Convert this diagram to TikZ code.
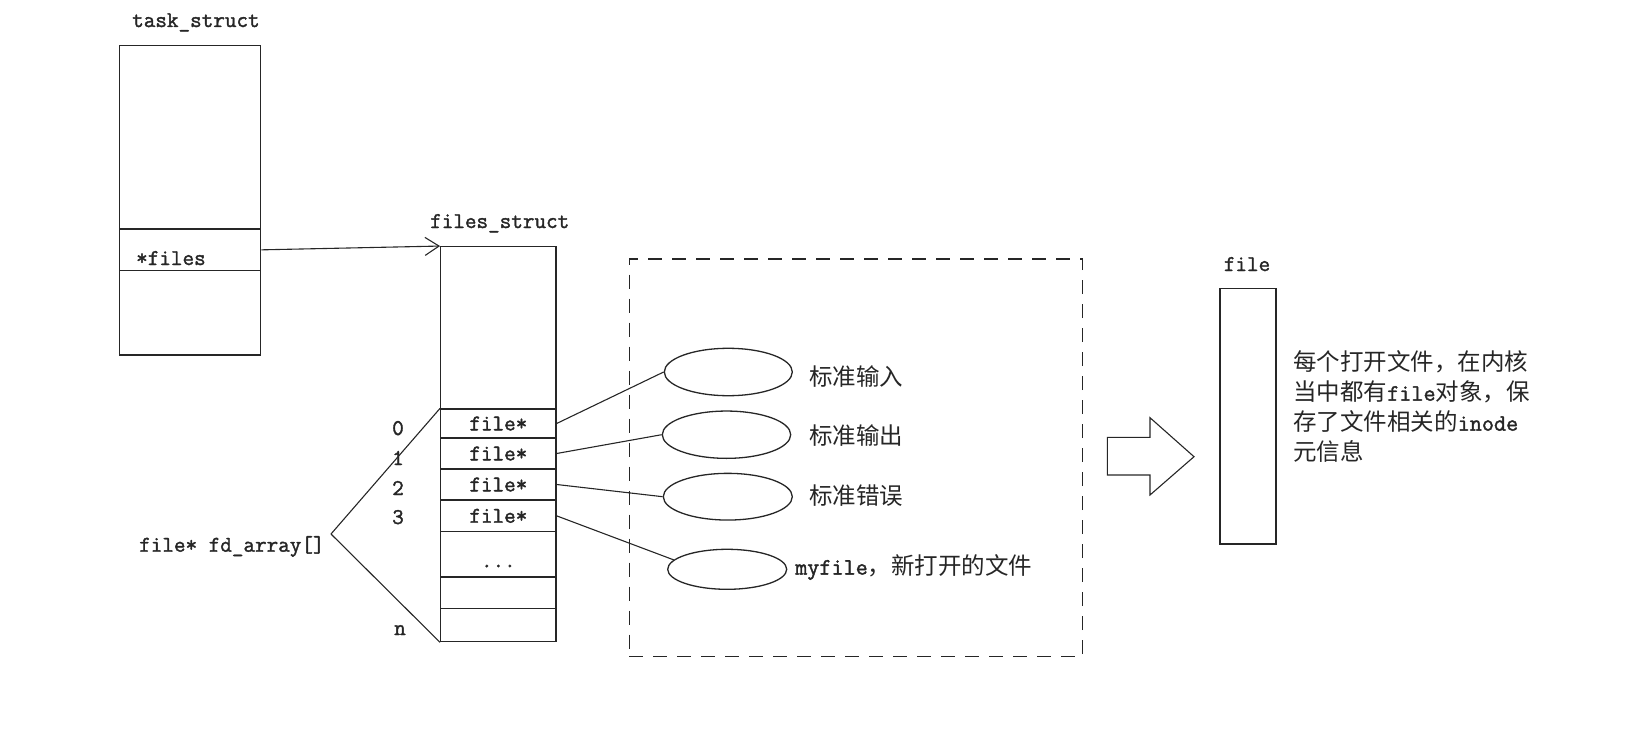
\documentclass[tikz,border=0pt]{standalone}
\usepackage{fontspec}
\newfontfamily\cjk{Noto Sans CJK SC}
\newfontfamily\mono{Latin Modern Mono}[RawFeature={embolden=1.6}]
\usetikzlibrary{shapes.geometric,arrows.meta}
\definecolor{ink}{HTML}{262626}
\begin{document}
\begin{tikzpicture}[x=1pt,y=-1pt,
  cell/.style={draw=ink, line width=1.3pt, inner sep=0pt, font=\fontsize{22.5}{27}\mono, text=ink},
  mono/.style={inner sep=0pt, font=\fontsize{22.5}{27}\mono, text=ink},
  cjkt/.style={inner sep=0pt, font=\fontsize{23.5}{30}\cjk, text=ink},
  oval/.style={ellipse, draw=ink, line width=1.3pt, inner sep=0pt},
  link/.style={line width=1.1pt, draw=ink},
  grpbox/.style={draw=ink, line width=1.3pt, dash pattern=on 14pt off 10pt, inner sep=0pt}
]
\useasboundingbox (0,0) rectangle (1651,746);

% task_struct
\node[mono, anchor=base west] (tl) at (132,27) {task\_struct};
\node[cell, minimum width=141.4, minimum height=183.3] (t0) at (190,137.35) {};
\node[cell, minimum width=141.4, minimum height=41.7] (t1) at (190,249.85) {};
\node[cell, minimum width=141.4, minimum height=84.3] (t2) at (190,312.85) {};
\node[mono, anchor=base west] (tf) at (136,265) {*files};

% files_struct
\node[mono, anchor=base west] (fl) at (430,228) {files\_struct};
\node[cell, minimum width=115.3, minimum height=162.3] (f0) at (498.35,327.85) {};
\node[cell, minimum width=115.3, minimum height=29] (r0) at (498.35,423.5) {file*};
\node[cell, minimum width=115.3, minimum height=31] (r1) at (498.35,453.5) {file*};
\node[cell, minimum width=115.3, minimum height=31] (r2) at (498.35,484.5) {file*};
\node[cell, minimum width=115.3, minimum height=31.7] (r3) at (498.35,515.85) {file*};
\node[cell, minimum width=115.3, minimum height=45.3] (r4) at (498.35,554.35) {\vphantom{f}\smash{\raisebox{-6pt}{...}}};
\node[cell, minimum width=115.3, minimum height=31.3] (r5) at (498.35,592.65) {};
\node[cell, minimum width=115.3, minimum height=33.4] (r6) at (498.35,625) {};

% indices
\node[mono, anchor=base] (i0) at (398,435) {0};
\node[mono, anchor=base] (i1) at (398,465) {1};
\node[mono, anchor=base] (i2) at (398,495) {2};
\node[mono, anchor=base] (i3) at (398,524) {3};
\node[mono, anchor=base] (in) at (400,635) {n};

% fd_array
\node[mono, anchor=base west] (fd) at (139,551.7) {file* fd\_array[]};
\coordinate (fa) at (331,534);
\draw[link] (fa) -- (r0.north west);
\draw[link] (fa) -- (r6.south west);

% pointer arrow
\draw[link, -{Straight Barb[length=14pt,width=18pt,line width=1.1pt]}] (t1.east) -- (f0.north west);

% dashed group
\node[grpbox, minimum width=453.4, minimum height=397.7] (grp) at (856,457.85) {};

% ellipses
\node[oval, minimum width=128, minimum height=47.4] (e1) at (728.3,372) {};
\node[oval, minimum width=128.4, minimum height=47.3] (e2) at (726.5,434.7) {};
\node[oval, minimum width=129, minimum height=46.7] (e3) at (727.8,496.7) {};
\node[oval, minimum width=119, minimum height=40] (e4) at (727.2,569.3) {};

\node[cjkt, anchor=west] (l1) at (809,376.7) {标准输入};
\node[cjkt, anchor=west] (l2) at (809,436) {标准输出};
\node[cjkt, anchor=west] (l3) at (809,495.7) {标准错误};
\node[cjkt, anchor=west] (l4) at (795,567.3) {{\mono myfile}，新打开的文件};

\draw[link] (r0.east) -- (e1.west);
\draw[link] (r1.east) -- (e2.west);
\draw[link] (r2.east) -- (e3.west);
\draw[link] (r3.east) -- (e4.170);

% block arrow
\draw[line width=1.1pt, draw=ink] (1107.3,437.3) -- (1150,437.3) -- (1150,417.7) -- (1194,456.7)
  -- (1150,495) -- (1150,475) -- (1107.3,475) -- cycle;

% file
\node[mono, anchor=base] (fil) at (1247,271) {file};
\node[cell, minimum width=56, minimum height=255.7] (fb) at (1248,416.15) {};
\node[cjkt, anchor=west, align=left] (desc) at (1293,406.7)
  {每个打开文件，在内核\\当中都有{\mono file}对象，保\\存了文件相关的{\mono inode}\\元信息};
\end{tikzpicture}
\end{document}
